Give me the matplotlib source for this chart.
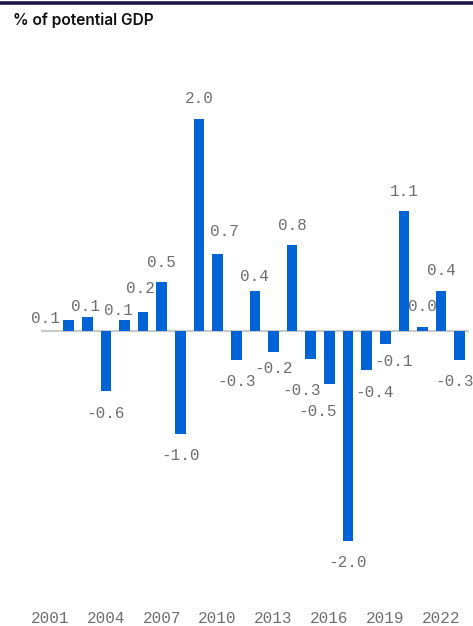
import matplotlib
matplotlib.use("Agg")
import matplotlib.pyplot as plt
from matplotlib.lines import Line2D

# Structural budget balance, % of potential GDP
years = list(range(2002, 2024))
values = [0.10, 0.13, -0.57, 0.10, 0.18, 0.46, -0.97, 2.00, 0.73, -0.27, 0.38,
          -0.20, 0.81, -0.26, -0.50, -1.98, -0.37, -0.12, 1.13, 0.04, 0.38, -0.27]
tick_years = list(range(2001, 2023, 3))
title = "% of potential GDP"

BAR = "#0063d6"
LABEL = "#6e6e6e"
DPI = 100

fig = plt.figure(figsize=(4.73, 6.26), dpi=DPI)
W, H = 473, 626

# axes box in pixels
left_px, right_px = 40.7, 469.0
top_px, bot_px = 40.0, 590.0
ax = fig.add_axes([left_px / W, 1 - bot_px / H, (right_px - left_px) / W, (bot_px - top_px) / H])
ax.set_xlim(2000.5, 2023.5)
ax.set_ylim(-2.443, 2.745)
for s in ax.spines.values():
    s.set_visible(False)
ax.set_yticks([])

ax.axhline(0, color="#c9c9c9", lw=1.6, zorder=1)
ax.bar(years, values, width=0.57, color=BAR, zorder=2)

ax.set_xticks(tick_years)
ax.set_xticklabels([str(y) for y in tick_years], family="Liberation Mono",
                   fontsize=11.5, color=LABEL)
ax.tick_params(axis="x", length=0, pad=15)

# nudges (dx, dy) in pixels for labels that would collide
nudge = {2002: (-23, -18), 2003: (-2, -9), 2005: (-6, -10), 2006: (-3, 3),
         2010: (7, 2), 2012: (0, -6), 2013: (0, 6), 2015: (-9, -10),
         2016: (-12, -5), 2018: (8, 0), 2019: (8, 4), 2023: (-5, 0)}
pt = 72 / DPI
for y, v in zip(years, values):
    dx, dy = nudge.get(y, (0, 0))
    base = 20 if v >= 0 else -22
    ax.annotate(f"{v:.1f}", (y, v), xytext=(dx * pt, (base + dy) * pt),
                textcoords="offset points", ha="center", va="center",
                family="Liberation Mono", fontsize=11.5, color=LABEL,
                annotation_clip=False, zorder=3)

fig.text(12.5 / W, 1 - 20 / H, title, family="Inter", fontweight="semibold",
         fontsize=11.2, color="#111111", ha="left", va="center")
fig.add_artist(Line2D([0, 1], [1 - 3 / H, 1 - 3 / H], transform=fig.transFigure,
                      color="#1b1947", lw=2.6))

fig.savefig("out.png", dpi=DPI)
